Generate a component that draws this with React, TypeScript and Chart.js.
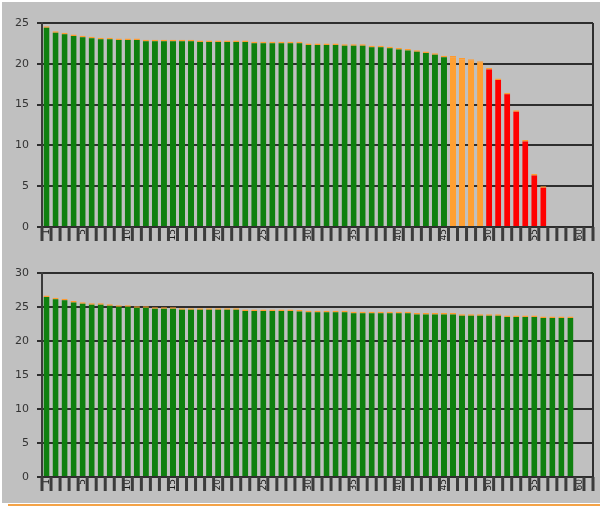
import React, { useEffect, useRef } from 'react';
import { Chart, registerables } from 'chart.js';

Chart.register(...registerables);

const categories = [
  '1', '2', '3', '4', '5', '6', '7', '8', '9', '10',
  '11', '12', '13', '14', '15', '16', '17', '18', '19', '20',
  '21', '22', '23', '24', '25', '26', '27', '28', '29', '30',
  '31', '32', '33', '34', '35', '36', '37', '38', '39', '40',
  '41', '42', '43', '44', '45', '46', '47', '48', '49', '50',
  '51', '52', '53', '54', '55', '56', '57', '58', '59', '60', '61',
];

const shownTicks = ['1', '5', '10', '15', '20', '25', '30', '35', '40', '45', '50', '55', '60'];

const topValues = [
  24.6, 24.0, 23.8, 23.6, 23.45, 23.3, 23.2, 23.2, 23.1, 23.1,
  23.1, 22.95, 22.95, 22.95, 22.95, 22.95, 22.95, 22.85, 22.85, 22.85,
  22.85, 22.85, 22.85, 22.7, 22.7, 22.7, 22.7, 22.7, 22.7, 22.5,
  22.5, 22.5, 22.5, 22.4, 22.4, 22.4, 22.2, 22.2, 22.1, 21.95,
  21.8, 21.65, 21.5, 21.3, 21.0, 20.95, 20.7, 20.55, 20.3, 19.5,
  18.2, 16.45, 14.3, 10.65, 6.5, 5.0,
];

const bottomValues = [
  26.7, 26.35, 26.2, 25.9, 25.7, 25.55, 25.55, 25.4, 25.25, 25.25,
  25.1, 25.1, 24.95, 24.95, 24.95, 24.8, 24.8, 24.8, 24.8, 24.8,
  24.8, 24.8, 24.65, 24.65, 24.65, 24.65, 24.65, 24.65, 24.55, 24.45,
  24.45, 24.45, 24.45, 24.45, 24.3, 24.3, 24.3, 24.3, 24.3, 24.3,
  24.3, 24.1, 24.1, 24.1, 24.1, 24.1, 23.95, 23.95, 23.95, 23.95,
  23.95, 23.75, 23.75, 23.75, 23.75, 23.6, 23.6, 23.6, 23.6,
];

const topYMax = 25;
const bottomYMax = 30;
const yStep = 5;

// colour bands of the top chart (count of bars in each band)
const topGreenCount = 45;
const topOrangeCount = 4;

const GREEN = '#0f800f';
const ORANGE = '#ffa033';
const RED = '#ff0000';
const CAP = '#ff9a2e';
const LINE = '#2e2e2e';

const topColors = topValues.map((_, i) =>
  i < topGreenCount ? GREEN : i < topGreenCount + topOrangeCount ? ORANGE : RED
);
const bottomColors = bottomValues.map(() => GREEN);

const TICK_LEN = 14;

const framePlugin = {
  id: 'rightFrame',
  afterDraw(chart: any) {
    const { ctx, chartArea: a } = chart;
    const xs = chart.scales.x;
    ctx.save();
    ctx.strokeStyle = LINE;
    ctx.lineWidth = 2;
    ctx.beginPath();
    ctx.moveTo(a.right, a.top);
    ctx.lineTo(a.right, a.bottom);
    ctx.stroke();
    // category-boundary tick marks below the x axis
    ctx.strokeStyle = '#3c3c3c';
    ctx.lineWidth = 3;
    ctx.beginPath();
    for (let i = 0; i <= categories.length; i++) {
      const x = xs.left + (i * (xs.right - xs.left)) / categories.length;
      ctx.moveTo(x, a.bottom);
      ctx.lineTo(x, a.bottom + TICK_LEN);
    }
    ctx.stroke();
    ctx.restore();
  },
};

function makeConfig(values: number[], colors: string[], yMax: number): any {
  return {
    type: 'bar',
    data: {
      labels: categories,
      datasets: [
        {
          data: values,
          backgroundColor: colors,
          borderColor: CAP,
          borderWidth: { top: 1.5, left: 0, right: 0, bottom: 0 },
          borderSkipped: 'start',
          categoryPercentage: 1,
          barPercentage: 0.67,
        },
      ],
    },
    options: {
      responsive: false,
      animation: false,
      events: [],
      layout: { padding: { top: 23, right: 7, left: 0, bottom: 0 } },
      plugins: { legend: { display: false }, tooltip: { enabled: false } },
      scales: {
        x: {
          grid: {
            offset: true,
            drawOnChartArea: false,
            drawTicks: true,
            tickLength: TICK_LEN,
            color: 'rgba(0,0,0,0)',
          },
          border: { display: true, color: LINE, width: 2 },
          ticks: {
            autoSkip: false,
            minRotation: 90,
            maxRotation: 90,
            padding: -12,
            color: '#1a1a1a',
            font: { size: 9, family: 'DejaVu Sans' },
            callback: (_v: any, i: number) =>
              shownTicks.includes(categories[i]) ? categories[i] : '',
          },
          afterFit: (s: any) => {
            s.height = 23;
          },
        },
        y: {
          min: 0,
          max: yMax,
          ticks: {
            stepSize: yStep,
            padding: 8,
            color: '#333',
            font: { size: 11, family: 'DejaVu Sans' },
          },
          grid: { color: LINE, lineWidth: 2, tickLength: 5, tickColor: LINE },
          border: { display: true, color: '#3a3a3a', width: 2 },
          afterFit: (s: any) => {
            s.width = 42;
          },
        },
      },
    },
    plugins: [framePlugin],
  };
}

function BarPanel({ values, colors, yMax, top }: { values: number[]; colors: string[]; yMax: number; top: number }) {
  const ref = useRef<HTMLCanvasElement | null>(null);
  useEffect(() => {
    if (!ref.current) return;
    const chart = new Chart(ref.current, makeConfig(values, colors, yMax));
    return () => chart.destroy();
  }, [values, colors, yMax]);
  return (
    <canvas
      ref={ref}
      width={600}
      height={250}
      style={{ position: 'absolute', left: 0, top, width: 600, height: 250 }}
    />
  );
}

export default function App() {
  return (
    <div
      style={{
        position: 'fixed',
        left: 0,
        top: 0,
        width: 600,
        height: 506,
        background: '#ffffff',
        overflow: 'hidden',
      }}
    >
      <div
        style={{
          position: 'absolute',
          left: 2,
          top: 2,
          width: 598,
          height: 501,
          background: '#c0c0c0',
        }}
      />
      <div
        style={{
          position: 'absolute',
          left: 8,
          top: 504,
          width: 592,
          height: 2,
          background: '#f4a347',
        }}
      />
      <BarPanel values={topValues} colors={topColors} yMax={topYMax} top={0} />
      <BarPanel values={bottomValues} colors={bottomColors} yMax={bottomYMax} top={250} />
    </div>
  );
}
